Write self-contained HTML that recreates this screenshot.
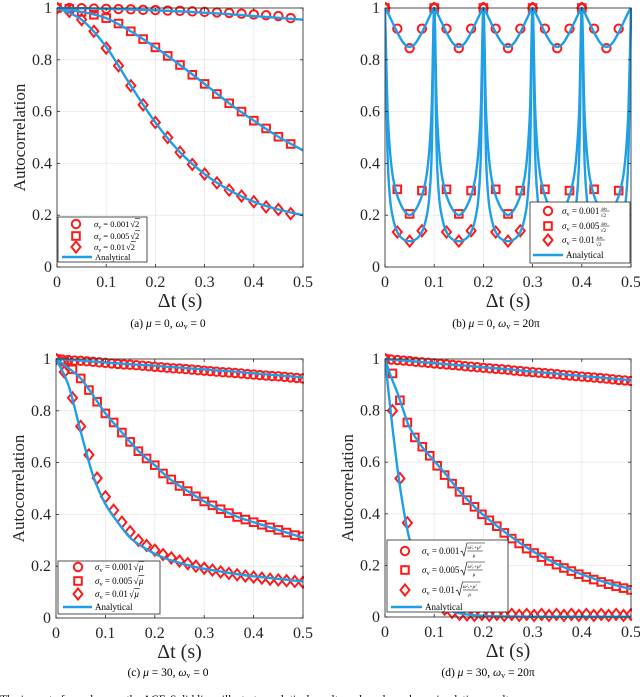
<!DOCTYPE html>
<html><head><meta charset="utf-8">
<style>
html,body{margin:0;padding:0;background:#fff;}
svg{display:block;}
svg text{font-family:"Liberation Serif","DejaVu Serif",serif;}
</style></head>
<body>
<svg id="fig" width="640" height="697" viewBox="0 0 640 697" xmlns="http://www.w3.org/2000/svg" font-family="Liberation Serif, serif"></svg>
<script>
// ---------- DATA ----------
const xTicks = [0, 0.1, 0.2, 0.3, 0.4, 0.5];
const xTickLabels = ["0", "0.1", "0.2", "0.3", "0.4", "0.5"];
const yTicks = [0, 0.2, 0.4, 0.6, 0.8, 1];
const yTickLabels = ["0", "0.2", "0.4", "0.6", "0.8", "1"];

// Panel (a)
const aMarkerStep = 0.025;
const aCircles = [1,1,.999,.998,.997,.996,.995,.993,.992,.99,.989,.987,.985,.983,.981,.978,.975,.972,.969,.961];
const aSquares = [1,.997,.985,.974,.961,.94,.91,.88,.848,.815,.78,.742,.707,.668,.632,.6,.565,.535,.503,.475];
const aDiamonds = [1,.987,.955,.91,.845,.777,.7,.626,.558,.5,.443,.396,.359,.325,.297,.274,.252,.232,.222,.206];
const aLineT = [0,.05,.1,.15,.2,.25,.3,.35,.4,.45,.5];
const aLineCircle = [1,.999,.997,.994,.991,.987,.982,.976,.969,.962,.955];
const aLineSquare = [1,.985,.961,.91,.848,.78,.707,.632,.565,.503,.45];
const aLineDiamond = [1,.955,.85,.7,.558,.443,.359,.297,.252,.222,.2];

// Panel (b)
const bMarkerStep = 0.025;
const bCircles = [1,.92,.845,.92, 1,.92,.845,.92, 1,.92,.845,.92, 1,.92,.845,.92, 1,.92,.845,.92];
const bSquares = [1,.3,.205,.295, 1,.3,.205,.295, 1,.3,.205,.295, 1,.3,.205,.295, 1,.3,.205,.295];
const bDiamonds = [1,.135,.1,.14, 1,.135,.1,.14, 1,.135,.1,.14, 1,.135,.1,.14, 1,.135,.1,.14];
const bPeriodStep = 0.005;
const bPeriodCircle = [1,.985,.965,.945,.925,.905,.888,.872,.86,.852,.85,.852,.86,.872,.888,.905,.925,.945,.965,.985,1];
const bPeriodSquare = [1,.62,.45,.36,.31,.275,.25,.23,.215,.205,.2,.205,.215,.23,.25,.275,.31,.36,.45,.62,1];
const bPeriodDiamond = [1,.45,.27,.2,.16,.135,.12,.11,.104,.1,.1,.1,.104,.11,.12,.135,.16,.2,.27,.45,1];
const bPeriods = 5;

// Panel (c)
const cCircleStep = 0.0125;
const cCircles = [1,.998,.996,.994,.993,.991,.989,.987,.985,.983,.981,.979,.978,.976,.974,.972,.970,.968,.966,.964,.963,.961,.959,.957,.955,.953,.951,.949,.948,.946,.944,.942,.940,.938,.936,.934,.933,.931,.929,.927,.925];
const cOtherStep = 1/60;
const cSquares = [1,.99,.96,.925,.88,.835,.79,.755,.716,.68,.644,.616,.59,.558,.535,.51,.49,.47,.45,.435,.42,.405,.39,.38,.37,.36,.35,.34,.33,.32,.315];
const cDiamonds = [1,.95,.85,.74,.63,.54,.468,.416,.37,.333,.30,.28,.262,.245,.232,.22,.21,.2,.192,.185,.178,.172,.167,.162,.158,.154,.15,.147,.144,.141,.138];
const cLineT = [0,.025,.05,.075,.1,.125,.15,.175,.2,.225,.25,.275,.3,.325,.35,.375,.4,.425,.45,.475,.5];
const cLineCircle = [1,.997,.994,.99,.987,.983,.98,.977,.974,.97,.967,.963,.96,.956,.953,.949,.945,.941,.937,.933,.929];
const cLineSquare = [1,.965,.925,.86,.79,.735,.68,.63,.59,.545,.51,.48,.45,.425,.405,.385,.37,.355,.34,.325,.31];
const cLineDiamond = [1,.9,.72,.55,.44,.37,.31,.275,.248,.228,.213,.2,.19,.182,.174,.167,.161,.156,.151,.146,.141];

// Panel (d)
const dCircleStep = 0.0125;
const dCircles = [1,.998,.996,.994,.992,.989,.987,.985,.983,.981,.979,.977,.975,.972,.970,.968,.966,.964,.962,.960,.958,.955,.953,.951,.949,.947,.945,.943,.941,.938,.936,.934,.932,.930,.928,.926,.924,.921,.919,.917,.915];
const dOtherStep = 0.5/33;
const dSquares = [1,.944,.84,.754,.696,.66,.625,.586,.55,.517,.485,.453,.427,.398,.375,.352,.326,.304,.285,.265,.248,.232,.217,.203,.19,.178,.166,.155,.145,.136,.127,.119,.112,.105];
const dDiamonds = [1,.8,.537,.365,.24,.15,.09,.055,.03,.018,.01,.008,.006,.01,.006,.01,.006,.01,.006,.01,.006,.01,.006,.01,.006,.01,.006,.01,.006,.01,.006,.01,.006,.01];
const dLineT = [0,.0125,.025,.0375,.05,.075,.1,.125,.15,.175,.2,.25,.3,.35,.4,.45,.5];
const dLineCircle = [1,.998,.996,.994,.992,.988,.984,.98,.976,.972,.968,.96,.951,.943,.934,.926,.918];
const dLineSquare = [1,.93,.87,.8,.735,.66,.605,.55,.49,.44,.395,.32,.255,.205,.165,.133,.108];
const dLineDiamond = [1,.78,.58,.42,.3,.14,.06,.03,.015,.008,.004,.002,.001,.001,.001,.001,.001];

// ---------- DRAWING ----------
const NS = "http://www.w3.org/2000/svg";
const svg = document.getElementById("fig");
const RED = "#ff1a1a", BLUE = "#1f9fe6";
const SERIF = '"Liberation Serif", "DejaVu Serif", serif';
function mk(tag, attrs, parent) {
  const e = document.createElementNS(NS, tag);
  if (tag === "text") e.setAttribute("font-family", SERIF);
  for (const k in attrs) e.setAttribute(k, attrs[k]);
  (parent || svg).appendChild(e);
  return e;
}
function makeAxes(x0, x1, yTop, yBot) {
  return {
    sx: v => x0 + (v / 0.5) * (x1 - x0),
    sy: v => yBot - v * (yBot - yTop),
    x0, x1, yTop, yBot
  };
}
function smoothPath(pts) {
  let d = "M" + pts[0][0].toFixed(2) + "," + pts[0][1].toFixed(2);
  for (let i = 0; i < pts.length - 1; i++) {
    const p0 = pts[i - 1] || pts[i], p1 = pts[i], p2 = pts[i + 1], p3 = pts[i + 2] || pts[i + 1];
    const c1x = p1[0] + (p2[0] - p0[0]) / 6, c1y = p1[1] + (p2[1] - p0[1]) / 6;
    const c2x = p2[0] - (p3[0] - p1[0]) / 6, c2y = p2[1] - (p3[1] - p1[1]) / 6;
    d += "C" + c1x.toFixed(2) + "," + c1y.toFixed(2) + " " + c2x.toFixed(2) + "," + c2y.toFixed(2) + " " + p2[0].toFixed(2) + "," + p2[1].toFixed(2);
  }
  return d;
}
function drawFrame(ax, g, showYLabel) {
  const grid = mk("g", {}, g);
  
  
  xTicks.forEach(t => mk("line", {x1: ax.sx(t), x2: ax.sx(t), y1: ax.yTop, y2: ax.yBot, stroke: "#e8e8e8", "stroke-width": 0.8}, grid));
  yTicks.forEach(t => mk("line", {x1: ax.x0, x2: ax.x1, y1: ax.sy(t), y2: ax.sy(t), stroke: "#e8e8e8", "stroke-width": 0.8}, grid));
  const xt = mk("g", {}, g);
  
  
  xTicks.forEach((t, i) => {
    const tx = mk("text", {x: ax.sx(t), y: ax.yBot + 20, "font-size": 16, "text-anchor": "middle", fill: "#262626"}, xt);
    tx.textContent = xTickLabels[i];
  });
  const yt = mk("g", {}, g);
  
  
  yTicks.forEach((t, i) => {
    const tx = mk("text", {x: ax.x0 - 5, y: ax.sy(t) + 5, "font-size": 16, "text-anchor": "end", fill: "#262626"}, yt);
    tx.textContent = yTickLabels[i];
  });
  const xl = mk("text", {x: (ax.x0 + ax.x1) / 2, y: ax.yBot + 40, "font-size": 20, "text-anchor": "middle", fill: "#262626"}, g);
  xl.textContent = "Δt (s)";
  
  
  if (showYLabel) {
    const yl = mk("text", {x: 0, y: 0, "font-size": 17, "text-anchor": "middle", fill: "#262626",
      transform: "translate(" + (ax.x0 - 32) + "," + ((ax.yTop + ax.yBot) / 2) + ") rotate(-90)"}, g);
    yl.textContent = "Autocorrelation";
    
    
  }
}
function drawBox(ax, g) {
  const box = mk("rect", {x: ax.x0, y: ax.yTop, width: ax.x1 - ax.x0, height: ax.yBot - ax.yTop, fill: "none", stroke: "#262626", "stroke-width": 0.8}, g);
  
  
  xTicks.forEach(t => {
    mk("line", {x1: ax.sx(t), x2: ax.sx(t), y1: ax.yBot, y2: ax.yBot - 3, stroke: "#262626", "stroke-width": 0.8}, g);
    mk("line", {x1: ax.sx(t), x2: ax.sx(t), y1: ax.yTop, y2: ax.yTop + 3, stroke: "#262626", "stroke-width": 0.8}, g);
  });
  yTicks.forEach(t => {
    mk("line", {x1: ax.x0, x2: ax.x0 + 3, y1: ax.sy(t), y2: ax.sy(t), stroke: "#262626", "stroke-width": 0.8}, g);
    mk("line", {x1: ax.x1, x2: ax.x1 - 3, y1: ax.sy(t), y2: ax.sy(t), stroke: "#262626", "stroke-width": 0.8}, g);
  });
}
function markerShape(kind, cx, cy, parent) {
  let e;
  if (kind === "circle") e = mk("circle", {cx, cy, r: 4.2, fill: "none", stroke: RED, "stroke-width": 2}, parent);
  else if (kind === "square") e = mk("rect", {x: cx - 3.8, y: cy - 3.8, width: 7.6, height: 7.6, fill: "none", stroke: RED, "stroke-width": 2}, parent);
  else e = mk("polygon", {points: [cx, cy - 5.5, cx + 4.5, cy, cx, cy + 5.5, cx - 4.5, cy].join(","), fill: "none", stroke: RED, "stroke-width": 2}, parent);
  return e;
}
function drawMarkers(ax, g, values, step, kind, name) {
  const grp = mk("g", {}, g);
  
  
  values.forEach((v, i) => {
    const e = markerShape(kind, ax.sx(i * step), ax.sy(v), grp);
    
    
  });
}
function drawLine(ax, g, ts, vals, name) {
  const pts = ts.map((t, i) => [ax.sx(t), ax.sy(vals[i])]);
  const p = mk("path", {d: smoothPath(pts), fill: "none", stroke: BLUE, "stroke-width": 2.4, "stroke-linejoin": "round"}, g);
  
  
}
function clipFor(ax, id) {
  const cp = mk("clipPath", {id});
  mk("rect", {x: ax.x0, y: ax.yTop - 6, width: ax.x1 - ax.x0 + 1, height: ax.yBot - ax.yTop + 12}, cp);
}
function sigma(parent, x, y, fs, coef) {
  const t = mk("text", {x, y, "font-size": fs, fill: "#000", "font-style": "italic"}, parent);
  t.textContent = "σ";
  const s = mk("tspan", {"font-size": fs * 0.7, dy: 2, "font-style": "normal"}, t);
  s.textContent = "v";
  const r = mk("tspan", {"font-style": "normal", dy: -2}, t);
  r.textContent = " = " + coef;
  return t;
}
function drawLegend(g, box, rows, lineRow, markerX, textX, fs, textKind) {
  const lg = mk("g", {}, g);
  
  
  mk("rect", {x: box[0], y: box[1], width: box[2], height: box[3], fill: "#fff", stroke: "#262626", "stroke-width": 0.8}, lg);
  const kinds = ["circle", "square", "diamond"];
  const coefs = ["0.001", "0.005", "0.01"];
  rows.forEach((ry, i) => {
    const ent = mk("g", {}, lg);
    
    
    markerShape(kinds[i], markerX, ry, ent);
    const t = sigma(ent, textX, ry + 3, fs, coefs[i]);
    const w = t.getComputedTextLength();
    const ex = textX + w + 1;
    if (textKind === "sqrt2") {
      const r = mk("text", {x: ex, y: ry + 3, "font-size": fs, fill: "#000"}, ent);
      r.textContent = "√2";
      mk("line", {x1: ex + fs * 0.55, x2: ex + fs * 1.15, y1: ry - fs * 0.62, y2: ry - fs * 0.62, stroke: "#000", "stroke-width": 0.6}, ent);
    } else if (textKind === "sqrtmu") {
      const r = mk("text", {x: ex, y: ry + 3, "font-size": fs, fill: "#000"}, ent);
      r.textContent = "√";
      const m = mk("text", {x: ex + fs * 0.6, y: ry + 3, "font-size": fs, fill: "#000", "font-style": "italic"}, ent);
      m.textContent = "μ";
      mk("line", {x1: ex + fs * 0.55, x2: ex + fs * 1.2, y1: ry - fs * 0.62, y2: ry - fs * 0.62, stroke: "#000", "stroke-width": 0.6}, ent);
    } else if (textKind === "frac") {
      const n = mk("text", {x: ex + 1, y: ry - 1, "font-size": fs * 0.6, fill: "#000", "font-style": "italic"}, ent);
      n.textContent = "ω";
      const ns = mk("tspan", {"font-size": fs * 0.45, "font-style": "normal"}, n);
      ns.textContent = "v";
      mk("line", {x1: ex, x2: ex + fs * 1.0, y1: ry, y2: ry, stroke: "#000", "stroke-width": 0.5}, ent);
      const dn = mk("text", {x: ex, y: ry + 6, "font-size": fs * 0.6, fill: "#000"}, ent);
      dn.textContent = "√2";
    } else if (textKind === "bigsqrt") {
      mk("path", {d: "M" + ex + "," + (ry + 1) + " l1.5,-1 l2,5 l3,-13 h" + (fs * 2.0), fill: "none", stroke: "#000", "stroke-width": 0.6}, ent);
      const n = mk("text", {x: ex + 7, y: ry - 2, "font-size": fs * 0.55, fill: "#000", "font-style": "italic"}, ent);
      n.textContent = "ω²ᵥ+μ²";
      mk("line", {x1: ex + 7, x2: ex + 7 + fs * 1.7, y1: ry, y2: ry, stroke: "#000", "stroke-width": 0.5}, ent);
      const dn = mk("text", {x: ex + 7 + fs * 0.6, y: ry + 6, "font-size": fs * 0.55, fill: "#000", "font-style": "italic"}, ent);
      dn.textContent = "μ";
    }
  });
  const le = mk("g", {}, lg);
  
  
  mk("line", {x1: lineRow[0], x2: lineRow[1], y1: lineRow[2], y2: lineRow[2], stroke: BLUE, "stroke-width": 2.4}, le);
  const at = mk("text", {x: lineRow[1] + 3, y: lineRow[2] + 3, "font-size": fs, fill: "#000"}, le);
  at.textContent = "Analytical";
}
function caption(x, y, letter, mu, omega, name) {
  const t = mk("text", {x, y, "font-size": 11.5, "text-anchor": "middle", fill: "#000"});
  
  
  const a = mk("tspan", {}, t); a.textContent = "(" + letter + ") ";
  const b = mk("tspan", {"font-style": "italic"}, t); b.textContent = "μ";
  const c = mk("tspan", {}, t); c.textContent = " = " + mu + ",  ";
  const d = mk("tspan", {"font-style": "italic"}, t); d.textContent = "ω";
  const e = mk("tspan", {"font-size": 8, dy: 2}, t); e.textContent = "v";
  const f = mk("tspan", {dy: -2}, t); f.textContent = " = " + omega;
}
function panel(name, ax, showY) {
  const g = mk("g", {});
  
  
  drawFrame(ax, g, showY);
  return g;
}

// Panel (a)
const axA = makeAxes(57, 303, 8, 267);
clipFor(axA, "clipA");
const gA = panel("panel-a", axA, true);
const pA = mk("g", {"clip-path": "url(#clipA)"}, gA);
drawMarkers(axA, pA, aCircles, aMarkerStep, "circle", "series-circles");
drawMarkers(axA, pA, aSquares, aMarkerStep, "square", "series-squares");
drawMarkers(axA, pA, aDiamonds, aMarkerStep, "diamond", "series-diamonds");
drawLine(axA, pA, aLineT, aLineCircle, "analytical-line-1");
drawLine(axA, pA, aLineT, aLineSquare, "analytical-line-2");
drawLine(axA, pA, aLineT, aLineDiamond, "analytical-line-3");
drawBox(axA, gA);
drawLegend(gA, [58, 217, 89, 45], [224, 236, 247], [62, 92, 257], 76, 94, 8.5, "sqrt2");
caption(168, 327, "a", "0", "0", "caption-a");

// Panel (b)
const axB = makeAxes(385, 631, 8, 267);
clipFor(axB, "clipB");
const gB = panel("panel-b", axB, false);
const pB = mk("g", {"clip-path": "url(#clipB)"}, gB);
drawMarkers(axB, pB, bCircles, bMarkerStep, "circle", "series-circles");
drawMarkers(axB, pB, bSquares, bMarkerStep, "square", "series-squares");
drawMarkers(axB, pB, bDiamonds, bMarkerStep, "diamond", "series-diamonds");
const bLineT = [], bLineCircle = [], bLineSquare = [], bLineDiamond = [];
for (let p = 0; p < bPeriods; p++) {
  bPeriodCircle.forEach((v, i) => {
    if (p > 0 && i === 0) return;
    bLineT.push(p * 0.1 + i * bPeriodStep);
    bLineCircle.push(v);
    bLineSquare.push(bPeriodSquare[i]);
    bLineDiamond.push(bPeriodDiamond[i]);
  });
}
drawLine(axB, pB, bLineT, bLineCircle, "analytical-line-1");
drawLine(axB, pB, bLineT, bLineSquare, "analytical-line-2");
drawLine(axB, pB, bLineT, bLineDiamond, "analytical-line-3");
drawBox(axB, gB);
drawLegend(gB, [530, 202, 100, 61], [211, 226, 240], [533, 563, 255], 548, 562, 9, "frac");
caption(496, 327, "b", "0", "20π", "caption-b");

// Panel (c)
const axC = makeAxes(56, 303, 359, 618);
clipFor(axC, "clipC");
const gC = panel("panel-c", axC, true);
const pC = mk("g", {"clip-path": "url(#clipC)"}, gC);
drawMarkers(axC, pC, cCircles, cCircleStep, "circle", "series-circles");
drawMarkers(axC, pC, cSquares, cOtherStep, "square", "series-squares");
drawMarkers(axC, pC, cDiamonds, cOtherStep, "diamond", "series-diamonds");
drawLine(axC, pC, cLineT, cLineCircle, "analytical-line-1");
drawLine(axC, pC, cLineT, cLineSquare, "analytical-line-2");
drawLine(axC, pC, cLineT, cLineDiamond, "analytical-line-3");
drawBox(axC, gC);
drawLegend(gC, [58, 561, 102, 53], [567, 581, 594], [63, 92, 607], 78, 95, 9, "sqrtmu");
caption(168, 676, "c", "30", "0", "caption-c");

// Panel (d)
const axD = makeAxes(385, 631, 359, 617);
clipFor(axD, "clipD");
const gD = panel("panel-d", axD, true);
const pD = mk("g", {"clip-path": "url(#clipD)"}, gD);
drawMarkers(axD, pD, dCircles, dCircleStep, "circle", "series-circles");
drawMarkers(axD, pD, dSquares, dOtherStep, "square", "series-squares");
drawMarkers(axD, pD, dDiamonds, dOtherStep, "diamond", "series-diamonds");
drawLine(axD, pD, dLineT, dLineCircle, "analytical-line-1");
drawLine(axD, pD, dLineT, dLineSquare, "analytical-line-2");
drawLine(axD, pD, dLineT, dLineDiamond, "analytical-line-3");
drawBox(axD, gD);
drawLegend(gD, [387, 540, 121, 72], [551, 570, 590], [391, 422, 607], 405, 422, 9, "bigsqrt");
caption(488, 676, "d", "30", "20π", "caption-d");

// Figure caption (cut off at bottom)
const fc = mk("text", {x: 0, y: 703, "font-size": 11.5, fill: "#000"});


fc.textContent = "The impact of μ and ωv on the ACF. Solid lines illustrate analytical results and markers show simulation results.";
</script>
</body></html>
